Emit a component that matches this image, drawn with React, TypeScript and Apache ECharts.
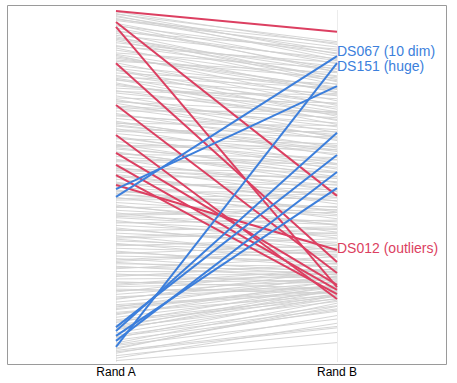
import React, { useEffect, useRef } from "react";
import * as echarts from "echarts";

const categories = ["Rand A", "Rand B"];

// background datasets: [Rand A score, Rand B score]
const grayPairs: [number, number][] = [
  [99.5, 90.2], [98.8, 91.0], [98.1, 88.4], [97.6, 86.9], [97.0, 89.5], [96.2, 84.7],
  [95.5, 87.8], [94.9, 83.1], [94.1, 85.6], [93.4, 80.2], [92.8, 86.2], [92.0, 82.5],
  [91.3, 78.8], [90.7, 84.0], [89.9, 81.3], [89.2, 76.5], [88.6, 79.9], [87.8, 83.4],
  [87.1, 74.2], [86.3, 78.1], [85.8, 80.7], [85.0, 72.9], [84.2, 77.4], [83.5, 75.6],
  [82.9, 69.8], [82.1, 79.0], [81.4, 73.3], [80.6, 71.1], [80.0, 76.2], [79.3, 67.5],
  [78.5, 72.4], [77.8, 74.8], [77.1, 68.9], [76.4, 70.3], [75.6, 65.2], [75.0, 73.6],
  [74.2, 66.8], [73.5, 62.9], [72.7, 69.4], [72.1, 64.1], [71.3, 71.2], [70.6, 60.8],
  [69.9, 66.0], [69.2, 63.3], [68.4, 58.7], [67.8, 67.2], [67.0, 61.5], [66.3, 56.4],
  [65.5, 63.9], [64.9, 59.2], [64.1, 54.8], [63.4, 62.0], [62.6, 57.5], [61.9, 52.6],
  [61.2, 60.4], [60.5, 55.3], [59.7, 50.9], [59.0, 58.1], [58.4, 53.7], [57.6, 48.5],
  [56.9, 56.3], [56.1, 51.2], [55.4, 46.7], [54.8, 54.0], [54.0, 49.4], [53.3, 44.9],
  [52.5, 52.8], [51.9, 47.3], [51.1, 42.6], [50.4, 50.5], [49.6, 45.8], [48.9, 40.7],
  [48.3, 48.4], [47.5, 43.9], [46.8, 38.8], [46.0, 46.6], [45.3, 41.5], [44.6, 36.9],
  [43.9, 44.2], [43.1, 39.8], [42.4, 35.2], [41.7, 42.5], [41.0, 37.6], [40.2, 33.4],
  [39.5, 40.3], [38.8, 35.9], [38.1, 31.7], [37.3, 38.4], [36.6, 34.0], [35.9, 29.8],
  [35.2, 36.7], [34.4, 32.1], [33.7, 28.3], [33.0, 35.0], [32.3, 30.6], [31.5, 26.9],
  [30.8, 33.2], [30.1, 28.7], [29.4, 25.4], [28.6, 31.5], [27.9, 27.1], [27.2, 23.8],
  [26.5, 29.9], [25.7, 25.6], [25.0, 22.3], [24.3, 28.0], [23.6, 24.1], [22.8, 20.9],
  [22.1, 26.4], [21.4, 22.7], [20.7, 19.6], [19.9, 26.6], [19.2, 24.2], [18.5, 21.3],
  [17.8, 25.9], [17.0, 22.8], [16.3, 20.1], [15.6, 24.4], [14.9, 21.6], [14.1, 19.0],
  [13.4, 23.1], [12.7, 20.2], [12.0, 18.6], [11.2, 21.8], [10.5, 19.4], [9.8, 17.2],
  [9.1, 20.5], [8.3, 18.1], [7.6, 16.0], [6.9, 18.9], [6.2, 14.4], [5.4, 17.6],
  [4.7, 12.2], [4.0, 15.8], [3.3, 10.1], [2.5, 13.2], [1.8, 8.4], [1.1, 11.0],
  [0.4, 5.5],
];

// more background datasets
const grayPairs2: [number, number][] = [
  [99.0, 87.5], [97.3, 90.6], [95.8, 82.4], [93.8, 88.9], [91.7, 81.0], [89.6, 85.1],
  [87.4, 77.7], [85.4, 82.2], [83.1, 71.8], [81.0, 77.9], [78.9, 70.6], [76.8, 75.9],
  [74.6, 63.8], [72.4, 67.9], [70.2, 64.6], [68.0, 60.2], [65.9, 65.4], [63.7, 56.0],
  [61.5, 61.3], [59.4, 52.1], [57.2, 57.4], [55.0, 50.2], [52.8, 45.7], [50.7, 48.9],
  [48.6, 43.1], [46.4, 47.8], [44.2, 39.1], [42.0, 43.3], [39.8, 36.4], [37.7, 33.0],
  [35.5, 37.9], [33.4, 31.2], [31.2, 27.8], [29.0, 32.4], [26.9, 26.2], [24.7, 24.9],
  [22.5, 23.3], [20.3, 21.0], [18.1, 23.6], [15.9, 19.7], [13.7, 21.2], [11.6, 17.9],
  [9.4, 19.0], [7.2, 15.1], [5.0, 14.8], [2.9, 9.7], [98.4, 85.9], [92.4, 79.6],
  [86.7, 76.8], [80.3, 68.6], [73.9, 70.9], [67.4, 59.8], [60.9, 54.1], [54.4, 52.2],
  [47.9, 41.9], [41.4, 39.0], [34.9, 30.3], [28.3, 24.7], [21.8, 25.1], [15.2, 22.0],
  [10.0, 20.9], [3.7, 16.7],
];

// highlighted datasets that drop in rank (red)
const redNames = ["R1", "R2", "R3", "R4", "R5", "R6", "R7", "R8", "R9", "DS012 (outliers)"];
const redA = [99.7, 96.6, 95.2, 84.9, 73.0, 64.5, 59.4, 56.0, 53.1, 50.3];
const redB = [93.8, 47.2, 21.3, 28.4, 25.3, 17.9, 21.9, 20.5, 19.3, 31.8];

// highlighted datasets that rise in rank (blue)
const blueNames = ["DS067 (10 dim)", "B2", "DS151 (huge)", "B4", "B5", "B6", "B7"];
const blueA = [46.9, 49.1, 4.3, 9.9, 8.8, 7.4, 6.0];
const blueB = [86.9, 78.4, 84.9, 58.8, 65.1, 49.4, 54.0];

const labelled: Record<string, number[]> = {
  "DS067 (10 dim)": [0, -5],
  "DS151 (huge)": [0, 3],
  "DS012 (outliers)": [0, -2],
};

const RED = "#dc3f61";
const BLUE = "#3c7fdc";
const FONT = "'Liberation Sans', Arial, Helvetica, sans-serif";

export default function App() {
  const ref = useRef<HTMLDivElement>(null);
  useEffect(() => {
    document.body.style.margin = "0";
    const chart = echarts.init(ref.current!, undefined, { renderer: "svg" });

    const mk = (name: string, a: number, b: number, color: string, width: number, z: number) => {
      const off = labelled[name];
      const s: any = {
        type: "line",
        name,
        silent: true,
        symbol: "none",
        z,
        lineStyle: { color, width, opacity: 1 },
        data: [a, b],
      };
      if (off) {
        s.endLabel = {
          show: true,
          formatter: name,
          distance: 0,
          offset: off,
          color,
          fontSize: 14,
          lineHeight: 13,
          fontFamily: FONT,
        };
      }
      return s;
    };

    const series: any[] = [];
    [...grayPairs, ...grayPairs2].forEach((p, i) => {
      series.push({
        type: "line",
        name: "g" + i,
        silent: true,
        symbol: "none",
        z: 1,
        lineStyle: { color: "#d0d0d0", width: 1, opacity: 0.9 },
        data: [p[0], p[1]],
      });
    });
    redA.forEach((a, i) => series.push(mk(redNames[i], a, redB[i], RED, 2, 3)));
    blueA.forEach((a, i) => series.push(mk(blueNames[i], a, blueB[i], BLUE, 2, 4)));

    chart.setOption({
      animation: false,
      backgroundColor: "#ffffff",
      grid: { left: 116, right: 120, top: 10, bottom: 21 },
      xAxis: {
        type: "category",
        data: categories,
        boundaryGap: false,
        axisLine: { show: false },
        axisTick: { show: false },
        axisLabel: { color: "#000", fontSize: 12, fontFamily: FONT, margin: 4 },
        splitLine: { show: true, lineStyle: { color: "#ececec", width: 1 } },
      },
      yAxis: {
        type: "value",
        min: 0,
        max: 100,
        show: false,
      },
      graphic: [
        {
          type: "rect",
          shape: { x: 7.5, y: 5.5, width: 439, height: 359 },
          style: { fill: "none", stroke: "#9a9a9a", lineWidth: 1 },
          z: 0,
          silent: true,
        },
      ],
      series,
    });
    return () => chart.dispose();
  }, []);
  return <div ref={ref} style={{ width: 457, height: 383 }} />;
}
